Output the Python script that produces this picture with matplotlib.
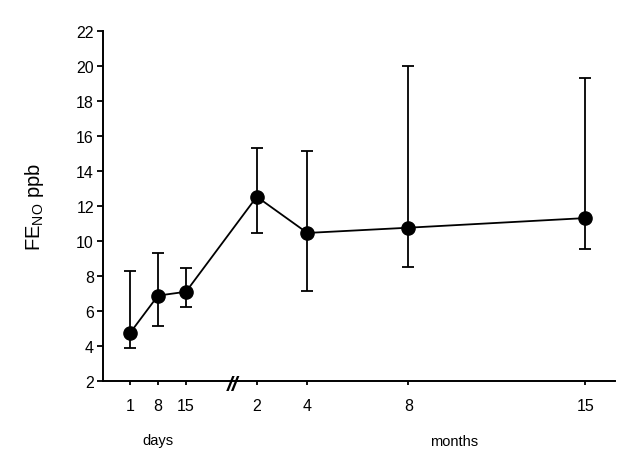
import matplotlib
matplotlib.use("Agg")
import matplotlib.pyplot as plt
import numpy as np

plt.rcParams['font.family'] = ['Liberation Sans', 'DejaVu Sans']
plt.rcParams['mathtext.fontset'] = 'custom'
plt.rcParams['mathtext.rm'] = 'Liberation Sans'

# Data
day_labels = [1, 8, 15]
month_labels = [2, 4, 8, 15]
day_mean = [4.74, 6.88, 7.10]
day_upper = [8.29, 9.31, 8.46]
day_lower = [3.89, 5.16, 6.23]
month_mean = [12.53, 10.46, 10.76, 11.31]
month_upper = [15.31, 15.16, 20.02, 19.29]
month_lower = [10.45, 7.16, 8.53, 9.54]
y_ticks = [2, 4, 6, 8, 10, 12, 14, 16, 18, 20, 22]

# Broken time axis: days and months on separate linear scales
def day_pos(d):
    return np.asarray(d, dtype=float)

def month_pos(m):
    return 1 + (206.2 + 25.28 * np.asarray(m, dtype=float) - 130) / 4.0

xd = day_pos(day_labels)
xm = month_pos(month_labels)
x = np.concatenate([xd, xm])
mean = np.array(day_mean + month_mean)
upper = np.array(day_upper + month_upper)
lower = np.array(day_lower + month_lower)

fig = plt.figure(figsize=(6.41, 4.56), dpi=100)
ax = fig.add_axes([103/641, 1 - 382/456, (615 - 103)/641, 350/456])

ax.errorbar(x, mean, yerr=[mean - lower, upper - mean], fmt='o', color='black',
            ms=9.5, lw=1.3, elinewidth=1.3, capsize=4.5, capthick=1.3, zorder=3)
ax.plot(x, mean, color='black', lw=1.3, zorder=2)

ax.set_xlim(1 - 27/4, 1 + 485/4)
ax.set_ylim(2, 22)
ax.set_yticks(y_ticks)
ax.set_yticklabels([str(t) for t in y_ticks])
ax.set_xticks(x)
ax.set_xticklabels([str(v) for v in day_labels + month_labels])

for s in ['top', 'right']:
    ax.spines[s].set_visible(False)
for s in ['left', 'bottom']:
    ax.spines[s].set_linewidth(1.4)
ax.tick_params(axis='both', direction='out', width=1.3, labelsize=11.5)
ax.tick_params(axis='y', length=4.5, pad=2)
ax.tick_params(axis='x', length=3, pad=9)

ax.set_ylabel(r'FE$_{\mathregular{NO}}$ ppb', fontsize=14.5, labelpad=22)

# break marker
bx = month_pos(2) - 6.0
ax.text(bx, 1.8, '//', ha='center', va='center', fontsize=15, fontstyle='italic',
        fontweight='bold', transform=ax.transData, clip_on=False)

# group labels
ax.text(day_pos(8), -1.0, 'days', ha='center', va='top', fontsize=10.5,
        transform=ax.transData)
ax.text(month_pos(8) + 11.5, -1.0, 'months', ha='center', va='top', fontsize=10.5,
        transform=ax.transData)

fig.savefig('out.png', dpi=100)
